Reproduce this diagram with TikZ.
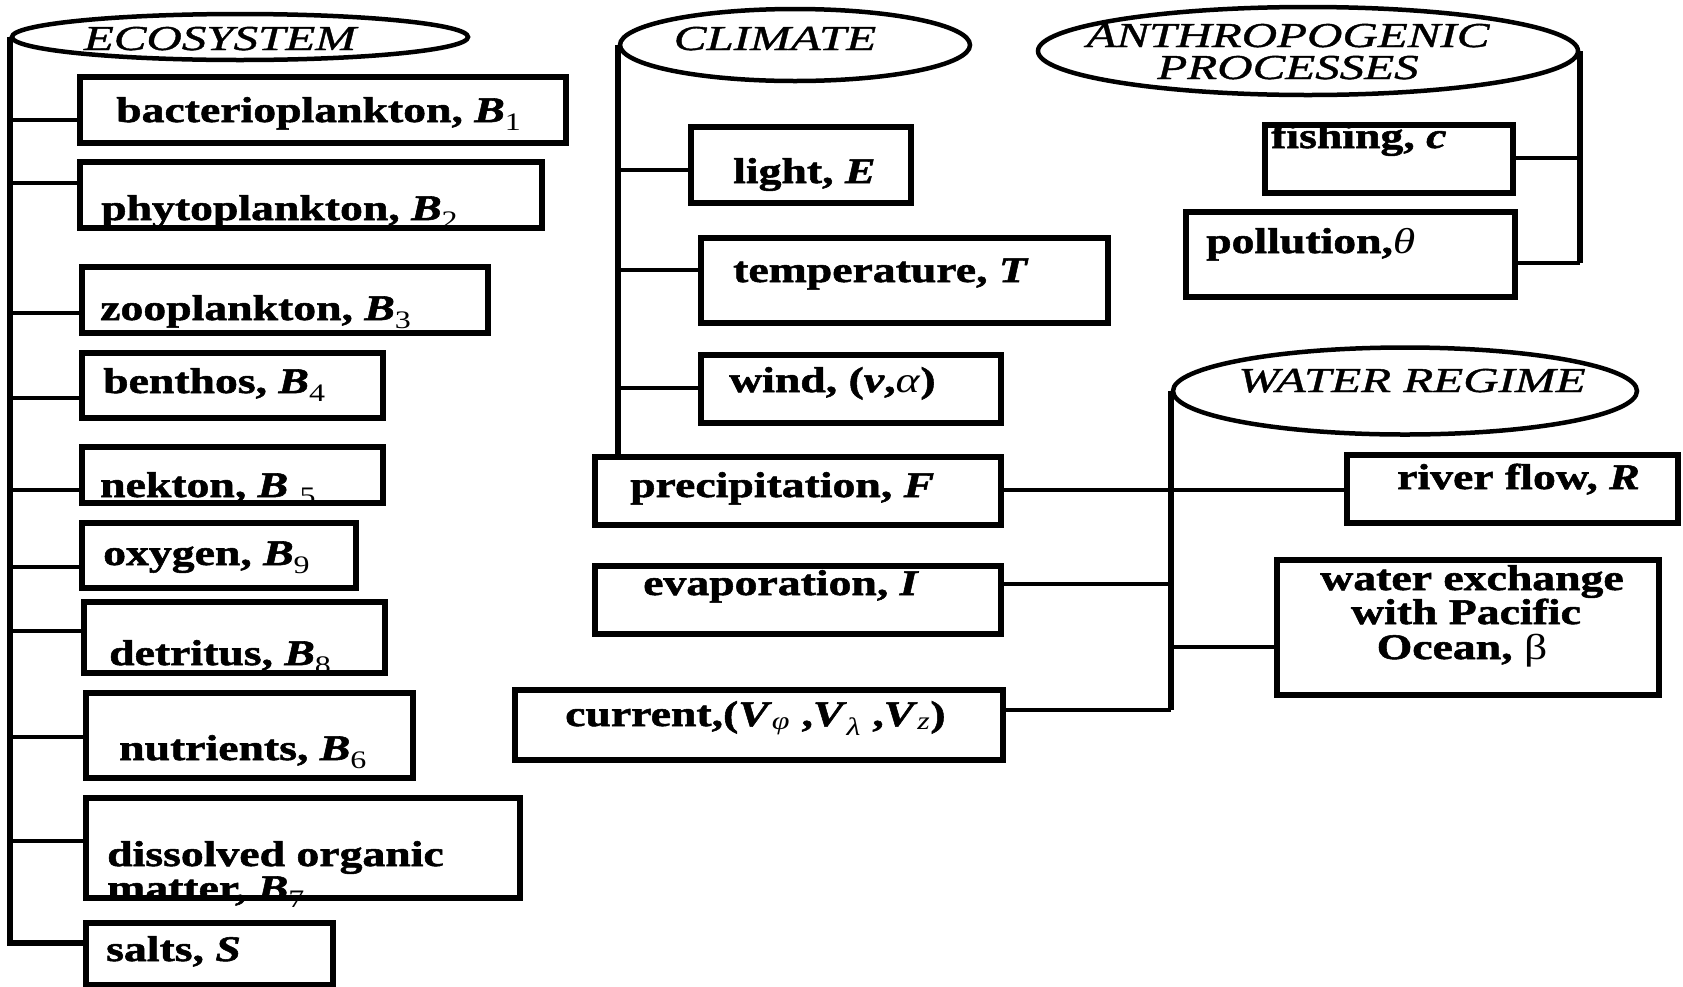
\documentclass[tikz,border=0pt]{standalone}
\usepackage{fontspec}
\setmainfont{Liberation Serif}[FakeStretch=1.27, BoldFeatures={FakeBold=1.5}, BoldItalicFeatures={FakeBold=1.5}]
\newfontfamily\hdfont{Liberation Serif}[FakeStretch=1.4, FakeBold=1.2]
\usetikzlibrary{shapes.geometric,fit}
\newcommand{\ix}[1]{\textsubscript{\mdseries\upshape #1}}

\tikzset{
  box/.style={draw, line width=5.5pt, inner sep=0pt},
  hdr/.style={draw, ellipse, line width=4.5pt, inner sep=0pt},
  lbl/.style={anchor=base west, inner sep=0pt, font=\fontsize{36}{38}\selectfont\bfseries},
  hdlbl/.style={anchor=base, inner sep=0pt, font=\hdfont\fontsize{35}{36}\selectfont\itshape},
  spine/.style={line width=6pt},
  link/.style={line width=4pt},
}

\begin{document}
\begin{tikzpicture}[x=1pt, y=-1pt]
\useasboundingbox (0,0) rectangle (1683,986);

\node[hdr, minimum width=456pt, minimum height=46pt] (eco) at (240,37) {};
\node[hdlbl] (ecot) at (220,50) {ECOSYSTEM};
\node[hdr, minimum width=350pt, minimum height=72pt] (cli) at (795,45) {};
\node[hdlbl] (clit) at (775,50) {CLIMATE};
\node[hdr, minimum width=540pt, minimum height=88pt] (ant) at (1308,51) {};
\node[hdlbl] (ant1) at (1288,47) {ANTHROPOGENIC};
\node[hdlbl] (ant2) at (1288,79) {PROCESSES};
\node[hdr, minimum width=464pt, minimum height=87pt] (wat) at (1405,391) {};
\node[hdlbl] (watt) at (1412,392) {WATER REGIME};

% ecosystem
\node[box, fit={(80,77) (566,143)}] (bac) {};
\node[box, fit={(80,162) (542,228)}] (phy) {};
\node[box, fit={(82,267) (488,333)}] (zoo) {};
\node[box, fit={(82,353) (383,418)}] (ben) {};
\node[box, fit={(82,447) (383,503)}] (nek) {};
\node[box, fit={(82,523) (356,588)}] (oxy) {};
\node[box, fit={(84,602) (385,673)}] (det) {};
\node[box, fit={(86,693) (413,778)}] (nut) {};
\node[box, fit={(86,798) (520,898)}] (dom) {};
\node[box, fit={(86,923) (333,985)}] (sal) {};
\node[lbl] (bact) at (116,122) {bacterioplankton, \textit{B}\ix{1}};
\node[lbl] (phyt) at (101,220) {phytoplankton, \textit{B}\ix{2}};
\node[lbl] (zoot) at (100,320) {zooplankton, \textit{B}\ix{3}};
\node[lbl] (bent) at (103,393) {benthos, \textit{B}\ix{4}};
\node[lbl] (nekt) at (100,497) {nekton, \textit{B} \ix{5}};
\node[lbl] (oxyt) at (103,565) {oxygen, \textit{B}\ix{9}};
\node[lbl] (dett) at (109,665) {detritus, \textit{B}\ix{8}};
\node[lbl] (nutt) at (119,760) {nutrients, \textit{B}\ix{6}};
\node[lbl] (dom1) at (107,866) {dissolved organic};
\node[lbl] (dom2) at (107,900) {matter, \textit{B}\ix{7}};
\node[lbl] (salt) at (106,961) {salts, \textit{S}};

\draw[spine] (eco.west) |- (sal.west |- 0,943);
\foreach \n/\y in {bac/120, phy/183, zoo/313, ben/398, nek/490, oxy/567, det/631, nut/737, dom/841}
  \draw[link] (12,\y) -- (\n.west |- 0,\y);

% climate
\node[box, fit={(691,127) (911,203)}] (lig) {};
\node[box, fit={(701,238) (1108,323)}] (tem) {};
\node[box, fit={(701,355) (1001,423)}] (win) {};
\node[box, fit={(595,457) (1001,525)}] (pre) {};
\node[box, fit={(595,566) (1001,634)}] (eva) {};
\node[box, fit={(515,690) (1003,760)}] (cur) {};
\node[lbl] (ligt) at (733,183) {light, \textit{E}};
\node[lbl] (temt) at (733,282) {temperature, \textit{T}};
\node[lbl] (wint) at (729,392) {wind, (\textit{v},\textit{\mdseries α})};
\node[lbl] (pret) at (630,497) {precipitation, \textit{F}};
\node[lbl] (evat) at (643,595) {evaporation, \textit{I}};
\node[lbl] (curt) at (565,726) {current,(\textit{V}\ix{\itshape φ} ,\textit{V}\ix{\itshape λ} ,\textit{V}\ix{\itshape z})};

\draw[spine] (cli.west) -- (cli.west |- pre.north);
\foreach \n/\y in {lig/170, tem/270, win/388}
  \draw[link] (cli.west |- 0,\y) -- (\n.west |- 0,\y);

% anthropogenic
\node[box, fit={(1265,125) (1513,193)}] (fis) {};
\node[box, fit={(1186,212) (1515,297)}] (pol) {};
\node[lbl] (fist) at (1271,148) {fishing, \textit{c}};
\node[lbl] (polt) at (1206,253) {pollution,\textit{\mdseries θ}};

\draw[spine] (ant.east) -- (ant.east |- 0,263);
\draw[link] (fis.east |- 0,158) -- (ant.east |- 0,158);
\draw[link] (pol.east |- 0,263) -- (ant.east |- 0,263);

% water regime
\node[box, fit={(1347,455) (1678,523)}] (riv) {};
\node[box, fit={(1277,560) (1659,695)}] (wex) {};
\node[lbl] (rivt) at (1397,489) {river flow, \textit{R}};
\node[lbl, anchor=base] (wex1) at (1472,590) {water exchange};
\node[lbl, anchor=base] (wex2) at (1466,624) {with Pacific};
\node[lbl, anchor=base] (wex3) at (1462,659) {Ocean, {\mdseries β}};

\draw[spine] (wat.west) -- (wat.west |- 0,710);
\draw[link] (pre.east |- 0,490) -- (riv.west |- 0,490);
\draw[link] (eva.east |- 0,584) -- (wat.west |- 0,584);
\draw[link] (cur.east |- 0,710) -- (wat.west |- 0,710);
\draw[link] (wat.west |- 0,647) -- (wex.west |- 0,647);
\end{tikzpicture}
\end{document}
